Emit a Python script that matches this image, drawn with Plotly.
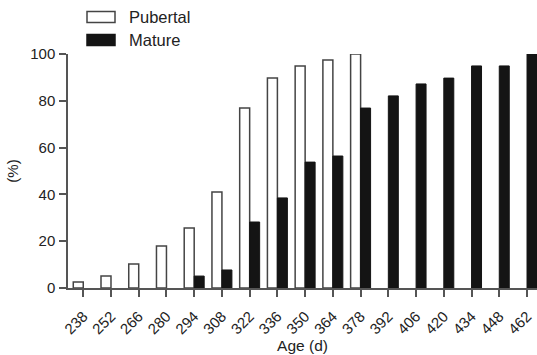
import plotly.graph_objects as go

ages = ["238", "252", "266", "280", "294", "308", "322", "336", "350",
        "364", "378", "392", "406", "420", "434", "448", "462"]
pubertal = [2.6, 5.1, 10.3, 17.9, 25.6, 41.0, 76.9, 89.7, 94.9, 97.4, 100,
            None, None, None, None, None, None]
mature = [None, None, None, None, 5.1, 7.7, 28.2, 38.5, 53.8, 56.4, 76.9,
          82.1, 87.2, 89.7, 94.9, 94.9, 100]
y_ticks = [0, 20, 40, 60, 80, 100]

FONT = "Liberation Sans, Arial, sans-serif"
AXC = "#555555"

fig = go.Figure()
fig.add_trace(go.Bar(x=ages, y=pubertal, name="Pubertal",
                     marker=dict(color="white", line=dict(color="#444444", width=1.5))))
fig.add_trace(go.Bar(x=ages, y=mature, name="Mature",
                     marker=dict(color="#141414", line=dict(color="#141414", width=1))))

fig.update_layout(
    width=537, height=355,
    margin=dict(l=68, r=0, t=54, b=67),
    paper_bgcolor="white", plot_bgcolor="white",
    barmode="group", bargap=0.28, bargroupgap=0,
    showlegend=False,
    font=dict(family=FONT, color="#222222", size=14),
)
fig.update_xaxes(
    type="category", range=[-0.55, 16.36],
    showline=True, linecolor=AXC, linewidth=1.5,
    ticks="outside", ticklen=7, tickwidth=1.5, tickcolor=AXC,
    tickangle=-45, tickfont=dict(size=15), ticklabelstandoff=5,
    showgrid=False, zeroline=False,
    title=dict(text="Age (d)", font=dict(size=15.5), standoff=2),
)
fig.update_yaxes(
    range=[0, 100], tickvals=y_ticks,
    showline=True, linecolor=AXC, linewidth=1.5,
    ticks="outside", ticklen=7, tickwidth=1.5, tickcolor=AXC,
    tickfont=dict(size=15), ticklabelstandoff=1,
    showgrid=False, zeroline=False,
    title=dict(text="(%)", font=dict(size=15), standoff=8),
)

# custom legend (wide box symbols)
def px_x(p):
    return (p - 68) / 469.0

def px_y(p):
    return (288 - p) / 234.0

legend_items = [("Pubertal", "white", "#444444", 17), ("Mature", "#141414", "#141414", 40)]
for name, fill, line, yc in legend_items:
    fig.add_shape(type="rect", xref="paper", yref="paper",
                  x0=px_x(87), x1=px_x(115), y0=px_y(yc - 5.5), y1=px_y(yc + 5.5),
                  fillcolor=fill, line=dict(color=line, width=1.5))
    fig.add_annotation(xref="paper", yref="paper", x=px_x(127), y=px_y(yc),
                       xanchor="left", yanchor="middle", showarrow=False,
                       text=name, font=dict(size=16.5, family=FONT, color="#222222"))

fig.write_html("out.html")
